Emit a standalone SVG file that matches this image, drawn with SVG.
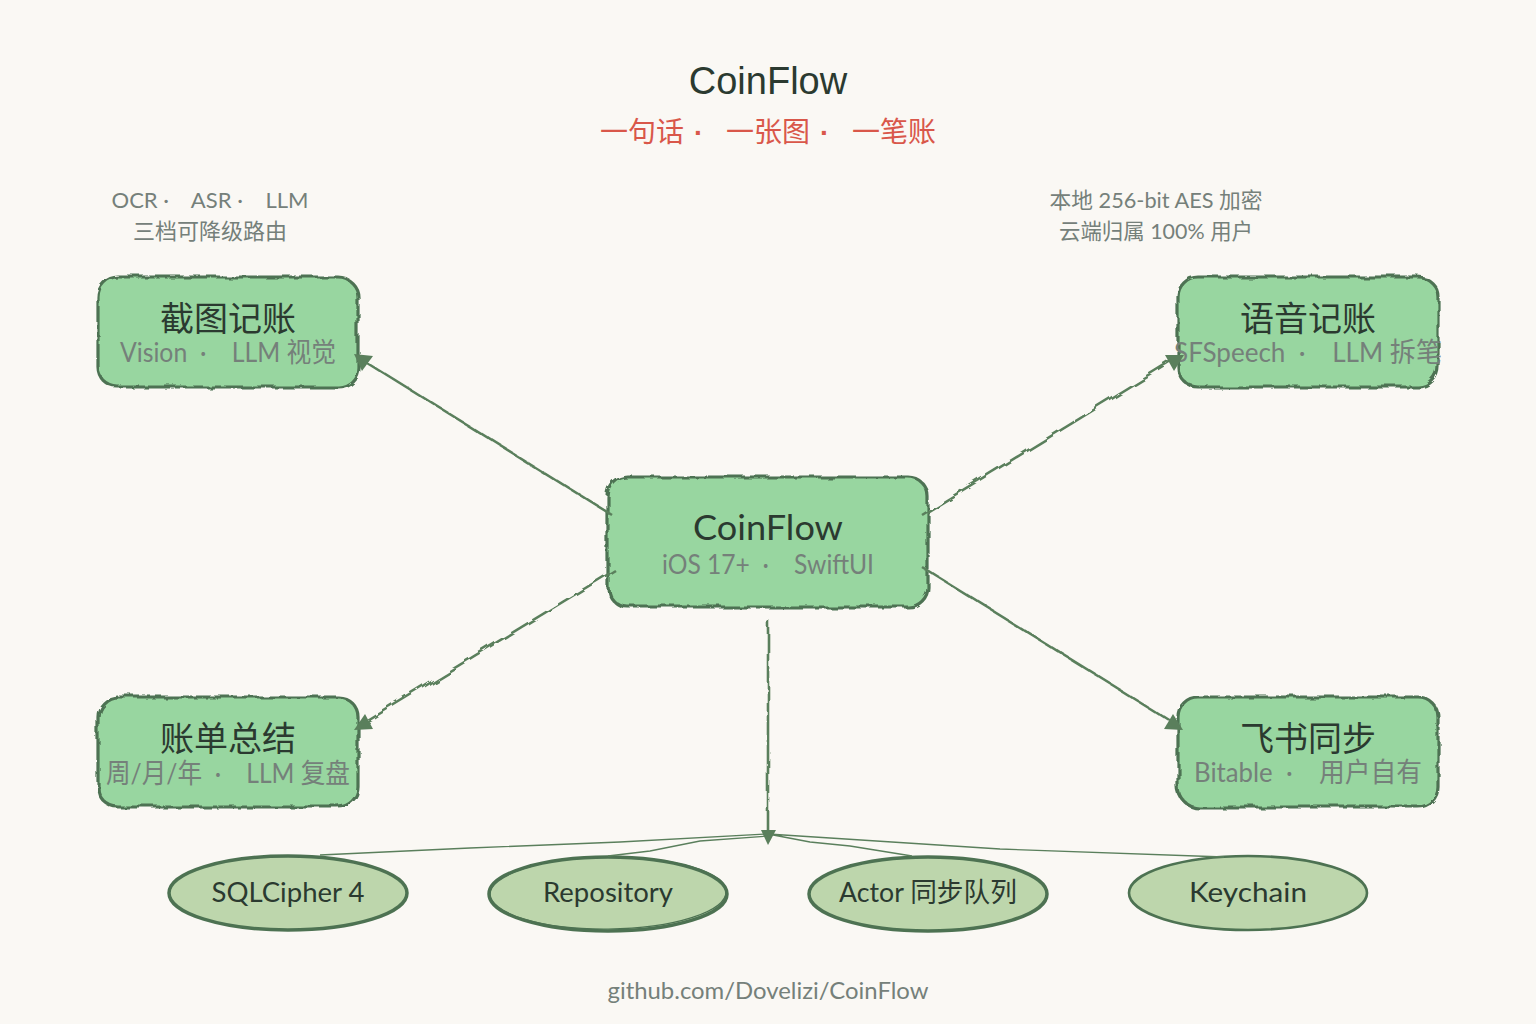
<svg xmlns="http://www.w3.org/2000/svg" width="1536" height="1024" viewBox="0 0 1536 1024">
<style>
text{font-family:"Lato","Noto Sans CJK SC",sans-serif;text-anchor:middle;white-space:pre;font-weight:400}
.t{font-family:"Liberation Sans","Noto Sans CJK SC",sans-serif}
.h{font-size:34px;fill:#2b3a30}
.s{font-size:27px;fill:#75807a}
.n{font-size:22px;fill:#75807a}
.e{font-size:27px;fill:#2b3a30}
.box{fill:#98d6a0;stroke:#4d7252;stroke-width:3.2;filter:url(#w)}
.ell{fill:#bdd6ac;stroke:#4d7252;stroke-width:3.5}
.c{fill:none;stroke:#5a7f5c;stroke-width:2.6;filter:url(#w2)}
.f{fill:none;stroke:#5a7f5c;stroke-width:1.3}
.a{fill:#5a7f5c}
</style>
<defs>
<filter id="w" filterUnits="userSpaceOnUse" x="0" y="0" width="1536" height="1024"><feTurbulence type="fractalNoise" baseFrequency="0.05" numOctaves="4" seed="4"/><feDisplacementMap in="SourceGraphic" scale="7"/></filter>
<filter id="w2" filterUnits="userSpaceOnUse" x="0" y="0" width="1536" height="1024"><feTurbulence type="fractalNoise" baseFrequency="0.035" numOctaves="3" seed="9"/><feDisplacementMap in="SourceGraphic" scale="8"/></filter>
</defs>
<rect width="1536" height="1024" fill="#faf8f4"/>
<text id="title" class="t" x="768" y="94" font-size="38" fill="#2b3a30">CoinFlow</text>
<text id="subtitle" class="t" x="600" y="142" font-size="28" fill="#d9574a" style="text-anchor:start">一句话<tspan dx="10" font-weight="700">·</tspan><tspan x="726">一张图</tspan><tspan dx="10" font-weight="700">·</tspan><tspan x="852">一笔账</tspan></text>
<g id="note-left"><text class="n" x="210" y="208" textLength="197" lengthAdjust="spacingAndGlyphs">OCR ·    ASR ·    LLM</text><text class="n" x="210" y="239">三档可降级路由</text></g>
<g id="note-right"><text class="n" x="1156" y="208" textLength="213" lengthAdjust="spacingAndGlyphs">本地 256-bit AES 加密</text><text class="n" x="1156" y="239" textLength="194" lengthAdjust="spacingAndGlyphs">云端归属 100% 用户</text></g>
<g id="node-screenshot"><rect class="box" x="98" y="277" width="260" height="110" rx="20"/><text class="h" x="228" y="331">截图记账</text><text class="s" x="228" y="362" textLength="216" lengthAdjust="spacingAndGlyphs">Vision  ·    LLM 视觉</text></g>
<g id="node-voice"><rect class="box" x="1178" y="277" width="260" height="110" rx="20"/><text class="h" x="1308" y="331">语音记账</text><text class="s" x="1308" y="362" textLength="268" lengthAdjust="spacingAndGlyphs">SFSpeech  ·    LLM 拆笔</text></g>
<g id="node-core"><rect class="box" x="608" y="477" width="320" height="130" rx="20"/><text class="h" x="768" y="540" textLength="150" lengthAdjust="spacingAndGlyphs">CoinFlow</text><text class="s" x="768" y="574" textLength="212" lengthAdjust="spacingAndGlyphs">iOS 17+  ·    SwiftUI</text></g>
<g id="node-summary"><rect class="box" x="98" y="697" width="260" height="110" rx="20"/><text class="h" x="228" y="751">账单总结</text><text class="s" x="228" y="783" textLength="244" lengthAdjust="spacingAndGlyphs">周/月/年  ·    LLM 复盘</text></g>
<g id="node-feishu"><rect class="box" x="1178" y="697" width="260" height="110" rx="20"/><text class="h" x="1308" y="751">飞书同步</text><text class="s" x="1308" y="782" textLength="228" lengthAdjust="spacingAndGlyphs">Bitable  ·    用户自有</text></g>
<g id="node-sqlcipher"><ellipse class="ell" cx="288" cy="893" rx="119" ry="37"/><text class="e" x="288" y="902" textLength="153" lengthAdjust="spacingAndGlyphs">SQLCipher 4</text></g>
<g id="node-repository"><ellipse class="ell" cx="608" cy="894" rx="119" ry="37"/><ellipse cx="608" cy="893" rx="118" ry="36" fill="none" stroke="#4d7252" stroke-width="1.2" transform="rotate(-0.6 608 893)"/><text class="e" x="608" y="902" textLength="130" lengthAdjust="spacingAndGlyphs">Repository</text></g>
<g id="node-actor"><ellipse class="ell" cx="928" cy="894" rx="119" ry="37"/><text class="e" x="928" y="902" textLength="178" lengthAdjust="spacingAndGlyphs">Actor 同步队列</text></g>
<g id="node-keychain"><ellipse class="ell" style="stroke-width:2.6" cx="1248" cy="893" rx="119" ry="37"/><text class="e" x="1248" y="902" textLength="118" lengthAdjust="spacingAndGlyphs">Keychain</text></g>
<text id="footer" x="768" y="999" font-size="24" fill="#75807a" textLength="321" lengthAdjust="spacingAndGlyphs">github.com/Dovelizi/CoinFlow</text>
<g id="connectors">
<path class="c" d="M612 515L366 362"/><path class="a" d="M354 354L373 356L362 371Z"/>
<path class="c" d="M922 515L1172 362"/><path class="a" d="M1184 355L1165 355L1174 371Z"/>
<path class="c" d="M615 570L366 722"/><path class="a" d="M354 730L365 714L373 729Z"/>
<path class="c" d="M922 567L1172 722"/><path class="a" d="M1183 730L1164 729L1173 714Z"/>
<path class="c" d="M768 620L768 832"/><path class="a" d="M768 845L761 830L776 830Z"/>
<path class="f" d="M320 855L470 848L620 842L768 834M608 856L650 851L700 841L768 836M768 834L810 842L850 846L912 856M768 834L830 838L1000 849L1224 857"/>
</g>
</svg>
